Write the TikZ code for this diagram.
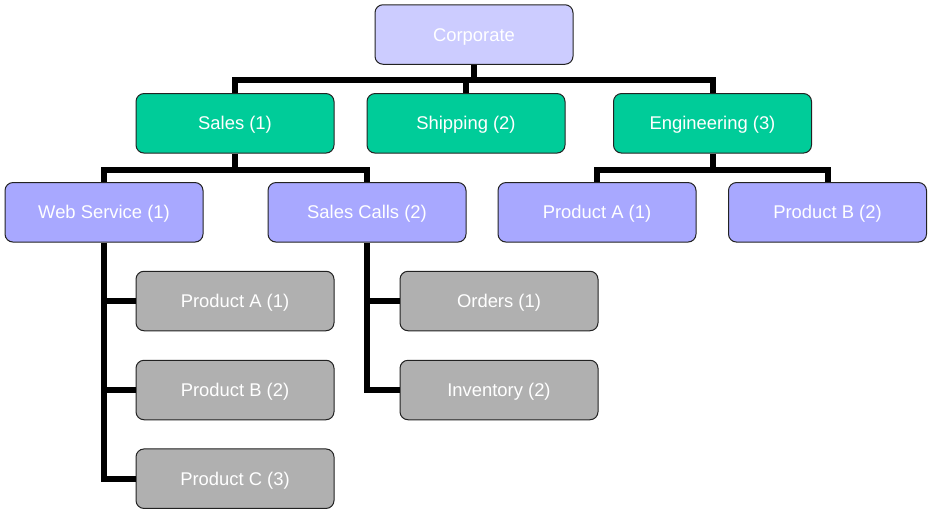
\documentclass[tikz,border=0pt]{standalone}
\usepackage{fontspec}
\setmainfont{Liberation Sans}
\definecolor{corpc}{HTML}{CCCCFF}
\definecolor{greenc}{HTML}{00CC99}
\definecolor{bluec}{HTML}{A8A8FF}
\definecolor{grayc}{HTML}{B0B0B0}
\definecolor{edgec}{HTML}{222222}
\begin{document}
\begin{tikzpicture}[x=1pt,y=-1pt,
  box/.style={draw=edgec, line width=1pt, rounded corners=8pt, minimum width=198pt, minimum height=59.5pt,
    inner sep=0pt, text height=13.2pt, text depth=0pt, text=white, font=\fontsize{18.4}{22}\selectfont},
  corpbox/.style={box, fill=corpc},
  greenbox/.style={box, fill=greenc},
  bluebox/.style={box, fill=bluec},
  graybox/.style={box, fill=grayc},
  conn/.style={draw=black, line width=6pt, line join=miter}]
\useasboundingbox (0,0) rectangle (933,514);
\coordinate (bus1) at (474,80);
\coordinate (bus2) at (235,169.5);
\coordinate (bus3) at (712.5,169.5);
\node[corpbox] (corp) at (474,34.5) {Corporate};
\node[greenbox] (sales) at (235,123.3) {Sales (1)};
\node[greenbox] (ship) at (466,123.3) {Shipping (2)};
\node[greenbox] (eng) at (712.5,123.3) {Engineering (3)};
\node[bluebox] (web) at (104,212.3) {Web Service (1)};
\node[bluebox] (calls) at (367,212.3) {Sales Calls (2)};
\node[bluebox] (pa) at (597,212.3) {Product A (1)};
\node[bluebox] (pb) at (827.5,212.3) {Product B (2)};
\node[graybox] (ga) at (235,301) {Product A (1)};
\node[graybox] (gb) at (235,390) {Product B (2)};
\node[graybox] (gc) at (235,478.7) {Product C (3)};
\node[graybox] (ord) at (499,301) {Orders (1)};
\node[graybox] (inv) at (499,390) {Inventory (2)};
\begin{scope}[every path/.style={conn}]
\draw (corp.south) -- (bus1);
\draw (sales.north) |- (bus1) -| (eng.north);
\draw (ship.north) -- (ship.north |- bus1);
\draw (sales.south) -- (bus2);
\draw (web.north) |- (bus2) -| (calls.north);
\draw (eng.south) -- (bus3);
\draw (pa.north) |- (bus3) -| (pb.north);
\draw (web.south) |- (gc.west);
\draw (web.south |- ga.west) -- (ga.west);
\draw (web.south |- gb.west) -- (gb.west);
\draw (calls.south) |- (inv.west);
\draw (calls.south |- ord.west) -- (ord.west);
\end{scope}
\end{tikzpicture}
\end{document}
